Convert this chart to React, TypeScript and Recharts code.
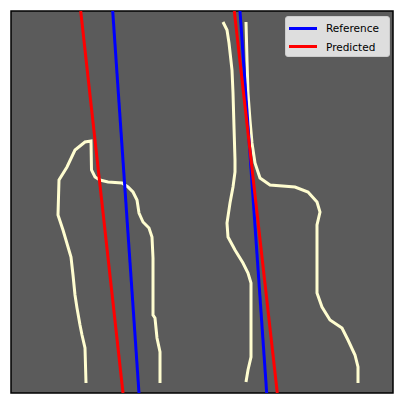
import { LineChart, Line, XAxis, YAxis, ReferenceArea } from "recharts";

// image pixel units, origin at top-left of the plot area
const leftContour = [
  [75, 372], [74, 337], [71, 324], [69, 314], [66, 297], [64, 284], [62, 264],
  [60, 246], [52, 219], [47, 204], [48, 169], [56, 156], [64, 139], [74, 131],
  [80, 130], [80.5, 159], [84, 166], [89, 169], [97, 171], [111, 172], [117, 176],
  [122, 181], [126, 189], [128, 202], [132, 211], [138, 217], [141, 226],
  [142, 247], [142, 304], [144, 307], [146, 327], [149, 341], [149, 372],
];
const rightContourA = [
  [212, 11], [216, 19], [218, 32], [221, 59], [222, 82], [223, 116], [224, 149],
  [224, 161], [222, 176], [219, 192], [216, 212], [217, 226], [224, 239],
  [232, 252], [237, 262], [240, 272], [240, 346], [237, 359], [235, 371],
];
const rightContourB = [
  [235, 11], [236, 49], [237, 82], [239, 109], [241, 132], [244, 152], [249, 167],
  [259, 174], [284, 176], [297, 181], [306, 191], [309, 201], [306, 214],
  [306, 282], [311, 296], [319, 309], [331, 317], [337, 329], [344, 344],
  [347, 356], [347, 372],
];
const referenceLines = [
  [[101.7, 0], [128, 382]],
  [[229, 0], [255.7, 382]],
];
const predictedLines = [
  [[69.7, 0], [112, 382]],
  [[223.3, 0], [266.3, 382]],
];
const legendItems = [
  { name: "Reference", color: "#0000ff" },
  { name: "Predicted", color: "#ff0000" },
];

const SIZE = 382;
const toRows = (pts: number[][]) => pts.map(([x, y]) => ({ x, y }));

export default function App() {
  return (
    <div style={{ position: "absolute", left: 0, top: 0, width: 405, height: 405, background: "#fff" }}>
      <LineChart width={405} height={405} margin={{ top: 11, left: 11, right: 12, bottom: 12 }}>
        <XAxis type="number" dataKey="x" domain={[0, SIZE]} hide allowDataOverflow />
        <YAxis type="number" dataKey="y" domain={[0, SIZE]} reversed hide allowDataOverflow />
        <ReferenceArea x1={0} x2={SIZE} y1={0} y2={SIZE} fill="#5b5b5b" fillOpacity={1} stroke="#000" strokeWidth={1.5} />
        {[leftContour, rightContourA, rightContourB].map((c, i) => (
          <Line key={`c${i}`} data={toRows(c)} dataKey="y" stroke="#fffdd0" strokeWidth={3}
            dot={false} type="linear" isAnimationActive={false} strokeLinejoin="miter" />
        ))}
        {referenceLines.map((l, i) => (
          <Line key={`r${i}`} data={toRows(l)} dataKey="y" stroke="#0000ff" strokeWidth={3}
            dot={false} type="linear" isAnimationActive={false} />
        ))}
        {predictedLines.map((l, i) => (
          <Line key={`p${i}`} data={toRows(l)} dataKey="y" stroke="#ff0000" strokeWidth={3}
            dot={false} type="linear" isAnimationActive={false} />
        ))}
      </LineChart>
      <div style={{
        position: "absolute", left: 285, top: 16, width: 105, height: 41,
        background: "rgba(255,255,255,0.8)", border: "1px solid #cccccc", borderRadius: 3,
        fontFamily: "DejaVu Sans", fontSize: 10.5, color: "#000", boxSizing: "border-box",
      }}>
        {legendItems.map((it, i) => (
          <div key={it.name} style={{ position: "absolute", left: 3, top: 4 + i * 18.5, height: 14, display: "flex", alignItems: "center" }}>
            <div style={{ width: 28, height: 3, background: it.color, marginRight: 9 }} />
            <span>{it.name}</span>
          </div>
        ))}
      </div>
    </div>
  );
}
